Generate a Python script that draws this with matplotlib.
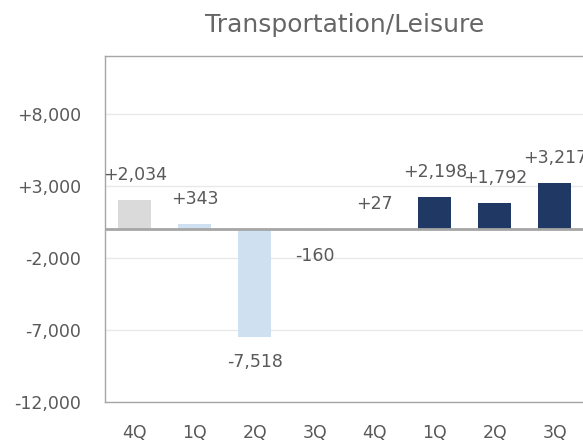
import matplotlib
matplotlib.use("Agg")
import matplotlib.pyplot as plt

plt.rcParams['font.family'] = ['DejaVu Sans']

quarters = ["4Q", "1Q", "2Q", "3Q", "4Q", "1Q", "2Q", "3Q"]
values = [2034, 343, -7518, -160, 27, 2198, 1792, 3217]
colors = ["#dadada", "#cfe0f1", "#cfe0f1", "#cfe0f1", "#cfe0f1", "#1f3864", "#1f3864", "#1f3864"]
yticks = [-12000, -7000, -2000, 3000, 8000]

fig = plt.figure(figsize=(5.83, 4.45), dpi=100)
ax = fig.add_axes([0.180, 0.0966, 0.823, 0.7774])

x = list(range(len(values)))
ax.bar(x, values, width=0.55, color=colors, zorder=2)
ax.axhline(0, color="#a6a6a6", linewidth=2, zorder=3)

for xi, v in zip(x, values):
    off = 18 if v >= 0 else -18
    ax.annotate(f"{v:+,}", (xi, v), xytext=(0, off), textcoords="offset points",
                ha="center", va="center", fontsize=12.5, color="#595959", zorder=4)

ax.set_xlim(-0.5, 7.5)
ax.set_ylim(-12000, 12000)
ax.set_yticks(yticks)
ax.set_yticklabels([f"{t:+,}" for t in yticks])
ax.set_xticks(x)
ax.set_xticklabels(quarters)
ax.tick_params(length=0, labelsize=12.5, colors="#595959")
ax.tick_params(axis="y", pad=17)
ax.tick_params(axis="x", pad=16)
ax.yaxis.grid(True, color="#e8e8e8", linewidth=1, zorder=0)
ax.set_axisbelow(True)
for s in ax.spines.values():
    s.set_color("#a6a6a6")
    s.set_linewidth(1)

ax.set_title("Transportation/Leisure", fontsize=18, color="#666666", pad=17)

fig.savefig("out.png", dpi=100)
